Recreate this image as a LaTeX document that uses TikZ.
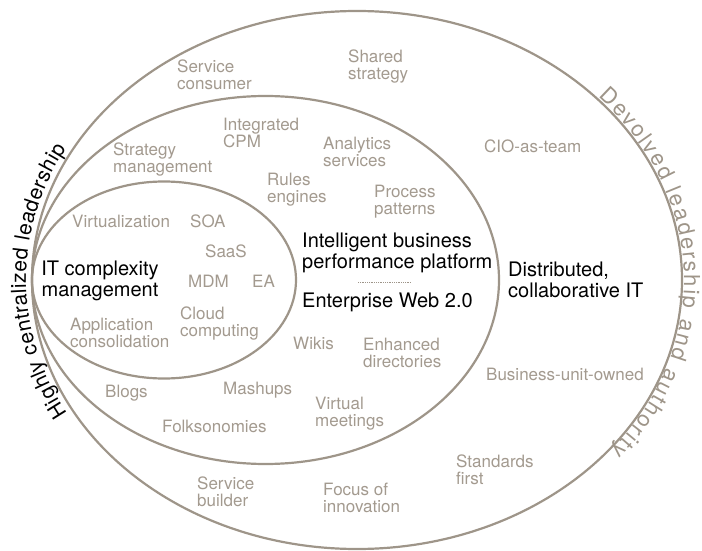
\documentclass[tikz,border=0pt]{standalone}
\usepackage{fontspec}
\setmainfont{TeX Gyre Heros}
\usetikzlibrary{shapes.geometric,decorations.text}
\definecolor{ringc}{HTML}{9E9589}
\definecolor{labc}{HTML}{A39A8F}
\begin{document}
\begin{tikzpicture}[x=1pt,y=1pt,
  ring/.style={ellipse, draw=ringc, line width=2.2pt, inner sep=0pt, outer sep=0pt},
  lbl/.style={anchor=north west, inner sep=0pt, align=left, text=labc, font=\fontsize{17}{16.5}\selectfont},
  key/.style={anchor=north west, inner sep=0pt, align=left, text=black, font=\fontsize{20}{21}\selectfont}]
\useasboundingbox (0,0) rectangle (702,550);
% rings
\node[ring, minimum width=650pt, minimum height=538pt] (outer) at (357,270) {};
\node[ring, minimum width=467pt, minimum height=368pt] (middle) at (265.5,270) {};
\node[ring, minimum width=264pt, minimum height=197pt] (inner) at (164,270) {};
% curved captions
\path[decorate, decoration={text along path, text align=fit to path,
   text={|\fontsize{21}{21}\selectfont|Highly centralized leadership}}]
  ([shift={(357,270)}]209:331pt and 275pt) arc[start angle=209, end angle=151.5, x radius=331pt, y radius=275pt];
\path[decorate, decoration={text along path, text align=fit to path, text color=ringc,
   text={|\fontsize{22}{22}\selectfont|Devolved leadership and authority}}]
  ([shift={(357,270)}]42.5:327pt and 271pt) arc[start angle=42.5, end angle=-39, x radius=327pt, y radius=271pt];
% key texts
\node[anchor=north, inner sep=0pt, align=center, font=\fontsize{20}{21}\selectfont] (itc) at (100,289) {IT complexity\\management};
\node[key] (ibpp) at (302,317) {Intelligent business\\performance platform};
\node[key] (ew) at (302,257) {Enterprise Web 2.0};
\node[key] (dist) at (508,288) {Distributed,\\collaborative IT};
\coordinate (d1) at (358,268);
\coordinate (d2) at (411,268);
\draw[ringc, line width=0.7pt, dash pattern=on 0.7pt off 1.1pt] (d1) -- (d2);
% grey labels
\node[lbl] (sc) at (177,490) {Service\\consumer};
\node[lbl] (ss) at (348,500) {Shared\\strategy};
\node[lbl] (icpm) at (223,432) {Integrated\\CPM};
\node[lbl] (sm) at (113,407) {Strategy\\management};
\node[lbl] (as) at (323,413) {Analytics\\services};
\node[lbl] (re) at (267,377) {Rules\\engines};
\node[lbl] (pp) at (374,365) {Process\\patterns};
\node[lbl] (cio) at (484,410) {CIO-as-team};
\node[lbl] (virt) at (72,335) {Virtualization};
\node[lbl] (soa) at (190,335) {SOA};
\node[lbl] (saas) at (205,305) {SaaS};
\node[lbl] (mdm) at (188,275) {MDM};
\node[lbl] (ea) at (252,275) {EA};
\node[lbl] (cc) at (180,243) {Cloud\\computing};
\node[lbl] (ac) at (70,232) {Application\\consolidation};
\node[lbl] (wik) at (293,213) {Wikis};
\node[lbl] (ed) at (363,212) {Enhanced\\directories};
\node[lbl] (buo) at (486,182) {Business-unit-owned};
\node[lbl] (blg) at (105,165) {Blogs};
\node[lbl] (msh) at (223,168) {Mashups};
\node[lbl] (vm) at (315,153) {Virtual\\meetings};
\node[lbl] (fk) at (162,130) {Folksonomies};
\node[lbl] (sb) at (197,73) {Service\\builder};
\node[lbl] (foi) at (323,67) {Focus of\\innovation};
\node[lbl] (sf) at (456,95) {Standards\\first};
\end{tikzpicture}
\end{document}
